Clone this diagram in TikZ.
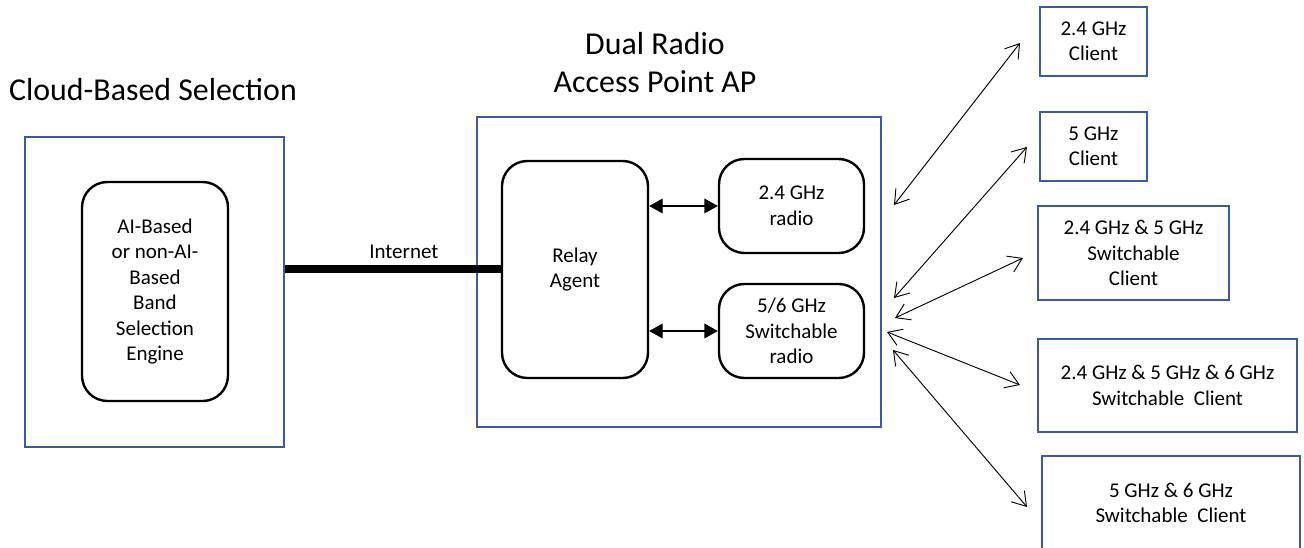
\documentclass[tikz,border=0pt]{standalone}
\usepackage{fontspec}
\setmainfont{Carlito}
\usetikzlibrary{arrows.meta}

\definecolor{boxblue}{RGB}{58,92,158}

\tikzset{
    bluebox/.style={draw=boxblue, line width=2pt, inner sep=0pt, align=center,
        font=\fontsize{15.75}{19.1}\selectfont},
    roundbox/.style={draw=black, line width=1.8pt, rounded corners=19pt, inner sep=0pt,
        align=center, font=\fontsize{15.75}{19.1}\selectfont},
    titletext/.style={align=center, font=\fontsize{23.9}{28.5}\selectfont},
    radioarrow/.style={{Triangle[length=10pt,width=11pt]}-{Triangle[length=10pt,width=11pt]},
        line width=0.8pt},
    linkarrow/.style={{Straight Barb[length=10pt,width=13pt]}-{Straight Barb[length=10pt,width=13pt]},
        line width=0.7pt},
}

\begin{document}
\begin{tikzpicture}[x=0.75pt, y=-0.75pt]
    \useasboundingbox (0, 0) rectangle (1304, 548);
    \clip (0, 0) rectangle (1304, 548);

    % cloud side
    \node[titletext] (cloudtitle) at (153, 90) {Cloud-Based Selection};
    \node[bluebox, minimum width=194.25pt, minimum height=232.5pt] (cloud) at (154.5, 292) {};
    \node[roundbox, minimum width=109.5pt, minimum height=164.25pt] (engine) at (155, 291.5)
        {AI-Based\\or non-AI-\\Based\\Band\\Selection\\Engine};

    % access point
    \node[titletext] (aptitle) at (655, 63) {Dual Radio\\Access Point AP};
    \node[bluebox, minimum width=303pt, minimum height=232.5pt] (ap) at (679, 272) {};
    \node[roundbox, minimum width=109.5pt, minimum height=162.75pt] (relay) at (575, 269.5)
        {Relay\\Agent};
    \node[roundbox, minimum width=108.75pt, minimum height=70.5pt] (radioA) at (791.5, 206)
        {2.4 GHz\\radio};
    \node[roundbox, minimum width=108.75pt, minimum height=70.5pt] (radioB) at (791.5, 331)
        {5/6 GHz\\Switchable\\radio};

    \draw[line width=6pt] (cloud.east |- relay.west) -- (relay.west)
        node[pos=0.55, above=2pt, font=\fontsize{15.75}{19.1}\selectfont] (inet) {Internet};
    \draw[radioarrow] (relay.east |- radioA.west) -- (radioA.west);
    \draw[radioarrow] (relay.east |- radioB.west) -- (radioB.west);

    % clients
    \node[bluebox, minimum width=80.25pt, minimum height=51.75pt] (clientA) at (1093.5, 41.5)
        {2.4 GHz\\Client};
    \node[bluebox, minimum width=80.25pt, minimum height=51.75pt] (clientB) at (1093.5, 146.5)
        {5 GHz\\Client};
    \node[bluebox, minimum width=143.25pt, minimum height=70.5pt] (clientC) at (1133.5, 253)
        {2.4 GHz \& 5 GHz\\Switchable\\Client};
    \node[bluebox, minimum width=194.25pt, minimum height=69.75pt] (clientD) at (1167.5, 385.5)
        {2.4 GHz \& 5 GHz \& 6 GHz\\Switchable\ \ Client};
    \node[bluebox, minimum width=193.5pt, minimum height=70.5pt] (clientE) at (1171, 503)
        {5 GHz \& 6 GHz\\Switchable\ \ Client};

    \coordinate (fromA) at (894, 205);
    \coordinate (toA) at (1020, 43);
    \coordinate (fromB) at (894, 298);
    \coordinate (toB) at (1027, 147);
    \coordinate (fromC) at (895, 318);
    \coordinate (toC) at (1023, 258);
    \coordinate (fromD) at (887, 332);
    \coordinate (toD) at (1020, 385);
    \coordinate (fromE) at (893, 350);
    \coordinate (toE) at (1027, 507);
    \foreach \c in {A, B, C, D, E} {
        \draw[linkarrow] (from\c) -- (to\c);
    }
\end{tikzpicture}
\end{document}
